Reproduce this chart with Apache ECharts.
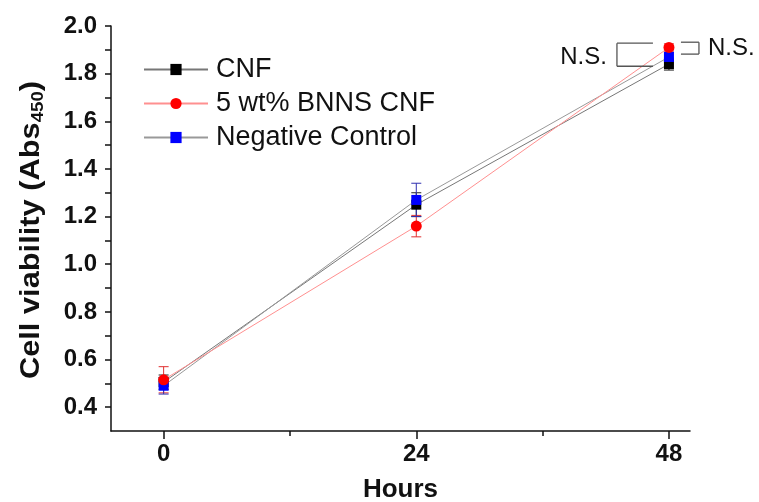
<!DOCTYPE html>
<html><head><meta charset="utf-8">
<script src="https://cdn.jsdelivr.net/npm/echarts@6/dist/echarts.min.js"></script>
<style>html,body{margin:0;padding:0;background:#fff}#c{width:759px;height:502px}</style>
</head><body><div id="c"></div>
<script>
var hours = [0, 24, 48];
var cnf = [0.505, 1.25, 1.84];
var cnfErr = [0.03, 0.05, 0.025];
var bnns = [0.515, 1.16, 1.91];
var bnnsErr = [0.055, 0.045, 0.015];
var neg = [0.49, 1.27, 1.87];
var negErr = [0.035, 0.07, 0.02];
var xTicks = [0, 24, 48];
var xMinorTicks = [12, 36];
var yTicks = [0.4, 0.6, 0.8, 1.0, 1.2, 1.4, 1.6, 1.8, 2.0];
var yMinorTicks = [0.4, 0.5, 0.6, 0.7, 0.8, 0.9, 1.0, 1.1, 1.2, 1.3, 1.4, 1.5, 1.6, 1.7, 1.8, 1.9, 2.0];
// N.S. annotations: [topValue, bottomValue]
var nsLeft = [1.928, 1.831];
var nsRight = [1.932, 1.882];

var sans = '"Liberation Sans",Arial,sans-serif';
var chart = echarts.init(document.getElementById('c'));

function pairs(xs, ys, es) { return xs.map(function (x, i) { return [x, ys[i], es[i]]; }); }

function errRender(color) {
  return function (params, api) {
    var x = api.value(0), y = api.value(1), e = api.value(2);
    var top = api.coord([x, y + e]), bot = api.coord([x, y - e]);
    var w = 5;
    var st = { stroke: color, lineWidth: 1 };
    return { type: 'group', children: [
      { type: 'line', shape: { x1: top[0], y1: top[1], x2: bot[0], y2: bot[1] }, style: st },
      { type: 'line', shape: { x1: top[0] - w, y1: top[1], x2: top[0] + w, y2: top[1] }, style: st },
      { type: 'line', shape: { x1: bot[0] - w, y1: bot[1], x2: bot[0] + w, y2: bot[1] }, style: st }
    ]};
  };
}

function nsRender(params, api) {
  var x = api.value(0), t = api.value(1), b = api.value(2), side = api.value(3);
  var pt = api.coord([x, t]), pb = api.coord([x, b]);
  var st = { stroke: '#555', lineWidth: 1.3 };
  var font = '24px ' + sans;
  var children;
  if (side < 0) {
    var xa = pt[0] - 52, xb = pt[0] - 16;
    children = [
      { type: 'line', shape: { x1: xa, y1: pt[1], x2: xb, y2: pt[1] }, style: st },
      { type: 'line', shape: { x1: xa, y1: pb[1], x2: xb, y2: pb[1] }, style: st },
      { type: 'line', shape: { x1: xa, y1: pt[1], x2: xa, y2: pb[1] }, style: st },
      { type: 'text', x: xa - 10, y: (pt[1] + pb[1]) / 2 + 3, style: { text: 'N.S.', fill: '#111', font: font, align: 'right', verticalAlign: 'middle' } }
    ];
  } else {
    var xa2 = pt[0] + 12, xb2 = pt[0] + 30;
    children = [
      { type: 'line', shape: { x1: xa2, y1: pt[1], x2: xb2, y2: pt[1] }, style: st },
      { type: 'line', shape: { x1: xa2, y1: pb[1], x2: xb2, y2: pb[1] }, style: st },
      { type: 'line', shape: { x1: xb2, y1: pt[1], x2: xb2, y2: pb[1] }, style: st },
      { type: 'text', x: xb2 + 9, y: (pt[1] + pb[1]) / 2, style: { text: 'N.S.', fill: '#111', font: font, align: 'left', verticalAlign: 'middle' } }
    ];
  }
  return { type: 'group', children: children };
}

chart.setOption({
  animation: false,
  backgroundColor: '#fff',
  grid: { left: 111, right: 69, top: 26, bottom: 71, outerBoundsMode: 'none', containLabel: false },
  legend: {
    left: 143, top: 56, orient: 'vertical', padding: 0,
    itemWidth: 64, itemHeight: 14, itemGap: 7,
    textStyle: { fontSize: 27, color: '#111', fontFamily: sans, lineHeight: 26, padding: [0, 0, 0, 3] },
    data: ['CNF', '5 wt% BNNS CNF', 'Negative Control']
  },
  graphic: [{
    type: 'text', x: 31, y: 230, rotation: Math.PI / 2, silent: true,
    style: {
      text: '{a|Cell viability (Abs}{s|450}{a|)}', align: 'center', verticalAlign: 'middle',
      rich: {
        a: { fontSize: 28, fontWeight: 'bold', fill: '#111', fontFamily: sans },
        s: { fontSize: 17, fontWeight: 'bold', fill: '#111', fontFamily: sans, padding: [14, 0, 0, 0] }
      }
    },
    scaleX: 1.1
  }],
  xAxis: [{
    type: 'value', min: -5, max: 50,
    name: 'Hours', nameLocation: 'middle', nameGap: 46,
    nameTextStyle: { fontSize: 26, fontWeight: 'bold', color: '#111', fontFamily: sans },
    axisLine: { onZero: false, lineStyle: { color: '#111', width: 1.5 } },
    axisTick: { customValues: xTicks, length: 8, lineStyle: { color: '#111', width: 1.5 } },
    axisLabel: { customValues: xTicks, fontSize: 24, fontWeight: 'bold', color: '#111', fontFamily: sans, margin: 11 },
    splitLine: { show: false }
  }, {
    type: 'value', min: -5, max: 50, position: 'bottom',
    axisLine: { show: false, onZero: false },
    axisTick: { customValues: xMinorTicks, length: 5, lineStyle: { color: '#111', width: 1.5 } },
    axisLabel: { show: false }, splitLine: { show: false }
  }],
  yAxis: {
    type: 'value', min: 0.3, max: 2.0,
    axisLine: { onZero: false, lineStyle: { color: '#111', width: 1.5 } },
    axisTick: { customValues: yMinorTicks, length: 6, lineStyle: { color: '#111', width: 1.5 } },
    axisLabel: { customValues: yTicks, fontSize: 24, fontWeight: 'bold', color: '#111', fontFamily: sans, margin: 14,
      formatter: function (v) { return v.toFixed(1); } },
    splitLine: { show: false }
  },
  series: [
    { type: 'custom', renderItem: errRender('#222'), data: pairs(hours, cnf, cnfErr), z: 2, silent: true },
    { type: 'custom', renderItem: errRender('#e03030'), data: pairs(hours, bnns, bnnsErr), z: 2, silent: true },
    { type: 'custom', renderItem: errRender('#3030b0'), data: pairs(hours, neg, negErr), z: 2, silent: true },
    { name: 'CNF', type: 'line', data: hours.map(function (h, i) { return [h, cnf[i]]; }),
      symbol: 'rect', symbolSize: 10, itemStyle: { color: '#000' }, lineStyle: { color: '#777', width: 1 }, z: 3 },
    { name: 'Negative Control', type: 'line', data: hours.map(function (h, i) { return [h, neg[i]]; }),
      symbol: 'rect', symbolSize: 10, itemStyle: { color: '#0000ff' }, lineStyle: { color: '#999', width: 1 }, z: 4 },
    { name: '5 wt% BNNS CNF', type: 'line', data: hours.map(function (h, i) { return [h, bnns[i]]; }),
      symbol: 'circle', symbolSize: 11, itemStyle: { color: '#ff0000' }, lineStyle: { color: '#ff9090', width: 1 }, z: 5 },
    { type: 'custom', renderItem: nsRender, silent: true, z: 6, clip: false,
      data: [[48, nsLeft[0], nsLeft[1], -1], [48, nsRight[0], nsRight[1], 1]] }
  ]
});
</script></body></html>
